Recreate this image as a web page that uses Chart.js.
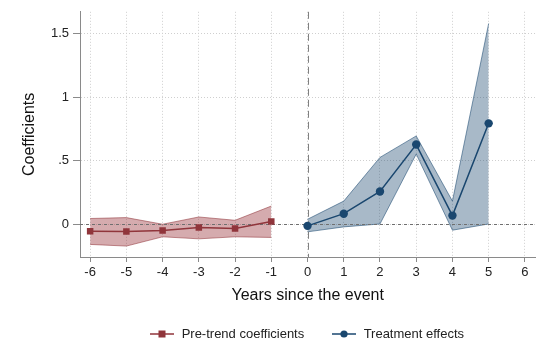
<!DOCTYPE html>
<html>
<head>
<meta charset="utf-8">
<script src="https://cdn.jsdelivr.net/npm/chart.js@4/dist/chart.umd.min.js"></script>
<style>
  html, body { margin: 0; padding: 0; background: #fff; }
  #wrap { position: relative; width: 540px; height: 343px; }
  #chart { position: absolute; left: 0; top: 0; }
  .legend { position: absolute; top: 324px; font-family: "Liberation Sans", Arial, sans-serif;
            font-size: 13px; color: #222; line-height: 18px; white-space: nowrap; }
  .legend span { display: inline-block; vertical-align: middle; }
</style>
</head>
<body>
<div id="wrap">
  <canvas id="chart" width="540" height="343"></canvas>
  <div class="legend" style="left:150px">
    <svg width="24" height="18" style="vertical-align:middle"><line x1="0" y1="9" x2="24" y2="9" stroke="#90353b" stroke-width="1.5"/><rect x="8.5" y="5.5" width="7" height="7" fill="#90353b"/></svg>
    <span style="margin-left:4px">Pre-trend coefficients</span>
  </div>
  <div class="legend" style="left:332px">
    <svg width="24" height="18" style="vertical-align:middle"><line x1="0" y1="9" x2="24" y2="9" stroke="#1a476f" stroke-width="1.5"/><circle cx="12" cy="9" r="3.6" fill="#1a476f"/></svg>
    <span style="margin-left:4px">Treatment effects</span>
  </div>
</div>
<script>
// Event-study estimates: pre-period leads and post-period effects with 95% bands
const preYears  = [-6, -5, -4, -3, -2, -1];
const preCoef   = [-0.055, -0.057, -0.049, -0.026, -0.034, 0.021];
const preUpper  = [0.045, 0.052, 0.000, 0.057, 0.031, 0.143];
const preLower  = [-0.159, -0.172, -0.099, -0.115, -0.099, -0.104];

const postYears = [0, 1, 2, 3, 4, 5];
const postCoef  = [-0.013, 0.083, 0.258, 0.627, 0.068, 0.794];
const postUpper = [0.039, 0.182, 0.526, 0.695, 0.182, 1.580];
const postLower = [-0.060, -0.021, 0.002, 0.552, -0.047, 0.002];

const xTicks = [-6, -5, -4, -3, -2, -1, 0, 1, 2, 3, 4, 5, 6];
const yTicks = [0, 0.5, 1, 1.5];

const RED = '#90353b';
const BLUE = '#1a476f';
const FONT = '"Liberation Sans", Arial, Helvetica, sans-serif';

const pts = (xs, ys) => xs.map((x, i) => ({ x: x, y: ys[i] }));

function band(xs, ys, line, fill, fillTarget) {
  return {
    data: pts(xs, ys), borderColor: line, borderWidth: 1, backgroundColor: fill,
    fill: fillTarget, pointRadius: 0, tension: 0, order: 2
  };
}

// Dashed reference lines at y = 0 and x = 0, drawn over the bands but under the estimates
let refDrawn = false;
const refLines = {
  id: 'refLines',
  beforeDraw() { refDrawn = false; },
  beforeDatasetDraw(chart, args) {
    if (refDrawn || args.meta.order !== 1) return;
    refDrawn = true;
    const { ctx, chartArea: a, scales: { x, y } } = chart;
    ctx.save();
    ctx.lineWidth = 1;
    ctx.strokeStyle = '#6f6f6f';
    ctx.setLineDash([3, 3]);
    const y0 = Math.round(y.getPixelForValue(0)) + 0.5;
    ctx.beginPath(); ctx.moveTo(a.left, y0); ctx.lineTo(a.right, y0); ctx.stroke();
    ctx.strokeStyle = '#808080';
    ctx.setLineDash([7, 4]);
    const x0 = Math.round(x.getPixelForValue(0)) + 0.5;
    ctx.beginPath(); ctx.moveTo(x0, a.top); ctx.lineTo(x0, a.bottom); ctx.stroke();
    ctx.restore();
  }
};

new Chart(document.getElementById('chart'), {
  type: 'line',
  data: {
    datasets: [
      { label: 'Pre-trend coefficients', data: pts(preYears, preCoef), borderColor: RED, backgroundColor: RED,
        borderWidth: 1.5, pointStyle: 'rect', pointRadius: 4.6, pointBorderWidth: 0, tension: 0, fill: false, order: 1 },
      { label: 'Treatment effects', data: pts(postYears, postCoef), borderColor: BLUE, backgroundColor: BLUE,
        borderWidth: 1.5, pointStyle: 'circle', pointRadius: 4.2, pointBorderWidth: 0, tension: 0, fill: false, order: 1 },
      band(preYears, preUpper, 'rgba(144,53,59,0.55)', 'rgba(150,45,52,0.40)', '+1'),
      band(preYears, preLower, 'rgba(144,53,59,0.55)', 'transparent', false),
      band(postYears, postUpper, 'rgba(26,71,111,0.55)', 'rgba(26,71,111,0.38)', '+1'),
      band(postYears, postLower, 'rgba(26,71,111,0.55)', 'transparent', false)
    ]
  },
  options: {
    responsive: false,
    animation: false,
    events: [],
    layout: { padding: { left: 0, top: 10, right: 0, bottom: 38 } },
    plugins: { legend: { display: false }, tooltip: { enabled: false } },
    scales: {
      x: {
        type: 'linear', min: -6.28, max: 6.29,
        afterBuildTicks: s => { s.ticks = xTicks.map(v => ({ value: v })); },
        afterFit: s => { s.height = 48; },
        ticks: { stepSize: 1, maxTicksLimit: 20, includeBounds: false, autoSkip: false, maxRotation: 0,
                 font: { family: FONT, size: 13 }, color: '#222', padding: 3,
                 callback: v => String(v) },
        grid: { color: '#cfcfcf', lineWidth: 1, tickColor: '#8a8a8a', tickLength: 5, tickBorderDash: [] },
        border: { color: '#8a8a8a', width: 1, dash: [1, 2] },
        title: { display: true, text: 'Years since the event', color: '#111',
                 font: { family: FONT, size: 16 }, padding: { top: 0, bottom: 0 } }
      },
      y: {
        type: 'linear', min: -0.258, max: 1.672,
        afterBuildTicks: s => { s.ticks = yTicks.map(v => ({ value: v })); },
        afterFit: s => { s.width = 80; },
        ticks: { stepSize: 0.5, includeBounds: false, font: { family: FONT, size: 13 }, color: '#222', padding: 4,
                 callback: v => (v === 0 ? '0' : String(v).replace(/^0\./, '.')) },
        grid: { color: '#cfcfcf', lineWidth: 1, tickColor: '#8a8a8a', tickLength: 7, tickBorderDash: [] },
        border: { color: '#8a8a8a', width: 1, dash: [1, 2] },
        title: { display: true, text: 'Coefficients', color: '#111',
                 font: { family: FONT, size: 16 }, padding: { top: 20, bottom: 0 } }
      }
    }
  },
  plugins: [refLines]
});
</script>
</body>
</html>
